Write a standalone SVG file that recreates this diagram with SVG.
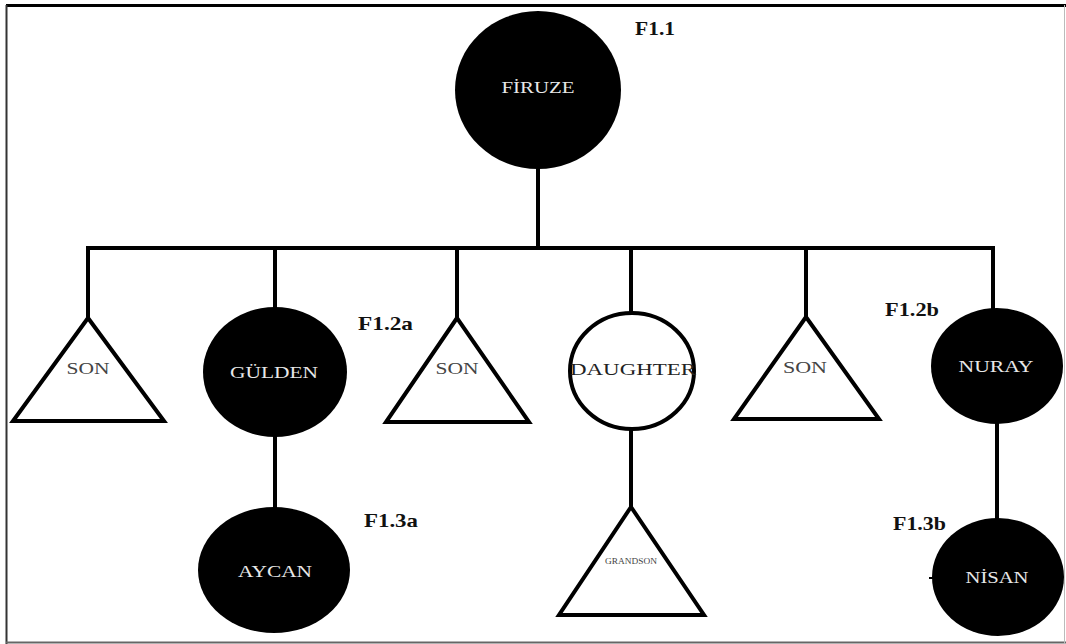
<svg xmlns="http://www.w3.org/2000/svg" width="1066" height="644" viewBox="0 0 1066 644">
<style>
.line{stroke:#000;stroke-width:4;fill:none}
.tri{fill:#fff;stroke:#000;stroke-width:4;stroke-linejoin:miter}
.blk{fill:#000}
.wht{fill:#fff;stroke:#000;stroke-width:4}
.lw{font-family:"Liberation Serif",serif;font-size:17px;fill:#e8e8e8;text-anchor:middle}
.lg{font-family:"Liberation Serif",serif;font-size:17px;fill:#444;text-anchor:middle}
.tag{font-family:"Liberation Serif",serif;font-size:19px;font-weight:bold;fill:#111}
</style>
<rect x="0" y="0" width="1066" height="644" fill="#fff"/>
<g id="frame">
<line x1="6" y1="5.5" x2="1066" y2="5.5" stroke="#000" stroke-width="3"/>
<line x1="6.5" y1="5" x2="6.5" y2="644" stroke="#333" stroke-width="2"/>
<line x1="6" y1="642.5" x2="1066" y2="642.5" stroke="#666" stroke-width="2"/>
<line x1="1064.5" y1="5" x2="1064.5" y2="644" stroke="#bbb" stroke-width="1"/>
</g>
<g id="connectors">
<line class="line" x1="538" y1="168" x2="538" y2="248"/>
<line class="line" x1="88" y1="248" x2="995" y2="248" stroke-width="5"/>
<line class="line" x1="88" y1="246" x2="88" y2="318"/>
<line class="line" x1="275" y1="246" x2="275" y2="310"/>
<line class="line" x1="457" y1="246" x2="457" y2="318"/>
<line class="line" x1="631" y1="246" x2="631" y2="314"/>
<line class="line" x1="806" y1="246" x2="806" y2="318"/>
<line class="line" x1="993" y1="246" x2="993" y2="310"/>
<line class="line" x1="275" y1="435" x2="275" y2="509"/>
<line class="line" x1="631" y1="428" x2="631" y2="507"/>
<line class="line" x1="997" y1="422" x2="997" y2="520"/>
<line x1="929" y1="578" x2="934" y2="578" stroke="#000" stroke-width="2"/>
</g>
<g id="firuze">
<ellipse class="blk" cx="538" cy="90" rx="83" ry="79"/>
<text class="lw" x="538" y="93" textLength="73" lengthAdjust="spacingAndGlyphs">FİRUZE</text>
<text class="tag" x="635" y="35" textLength="40" lengthAdjust="spacingAndGlyphs">F1.1</text>
</g>
<g id="son1">
<polygon class="tri" points="88,318 13,421 164,421"/>
<text class="lg" x="88" y="374" textLength="43" lengthAdjust="spacingAndGlyphs">SON</text>
</g>
<g id="gulden">
<ellipse class="blk" cx="275" cy="372" rx="72" ry="65"/>
<text class="lw" x="274" y="378" textLength="88" lengthAdjust="spacingAndGlyphs">GÜLDEN</text>
<text class="tag" x="358" y="330" textLength="55" lengthAdjust="spacingAndGlyphs">F1.2a</text>
</g>
<g id="son2">
<polygon class="tri" points="457,318 386,422 529,422"/>
<text class="lg" x="457" y="374" textLength="43" lengthAdjust="spacingAndGlyphs">SON</text>
</g>
<g id="daughter">
<ellipse class="wht" cx="632" cy="371" rx="62" ry="58"/>
<text class="lg" x="633" y="375" fill="#222" style="fill:#222" textLength="126" lengthAdjust="spacingAndGlyphs">DAUGHTER</text>
</g>
<g id="son3">
<polygon class="tri" points="806,317 734,419 879,419"/>
<text class="lg" x="805" y="373" textLength="44" lengthAdjust="spacingAndGlyphs">SON</text>
</g>
<g id="nuray">
<ellipse class="blk" cx="997" cy="366" rx="66" ry="58"/>
<text class="lw" x="996" y="372" textLength="75" lengthAdjust="spacingAndGlyphs">NURAY</text>
<text class="tag" x="885" y="316" textLength="54" lengthAdjust="spacingAndGlyphs">F1.2b</text>
</g>
<g id="aycan">
<ellipse class="blk" cx="274" cy="570" rx="76" ry="63"/>
<text class="lw" x="275" y="577" textLength="74" lengthAdjust="spacingAndGlyphs">AYCAN</text>
<text class="tag" x="364" y="527" textLength="54" lengthAdjust="spacingAndGlyphs">F1.3a</text>
</g>
<g id="grandson">
<polygon class="tri" points="631,507 559,615 704,615"/>
<text class="lg" x="631" y="564" style="font-size:8px" textLength="52" lengthAdjust="spacingAndGlyphs">GRANDSON</text>
</g>
<g id="nisan">
<ellipse class="blk" cx="998" cy="577" rx="66" ry="59"/>
<text class="lw" x="997" y="583" textLength="63" lengthAdjust="spacingAndGlyphs">NİSAN</text>
<text class="tag" x="893" y="530" textLength="53" lengthAdjust="spacingAndGlyphs">F1.3b</text>
</g>
</svg>
